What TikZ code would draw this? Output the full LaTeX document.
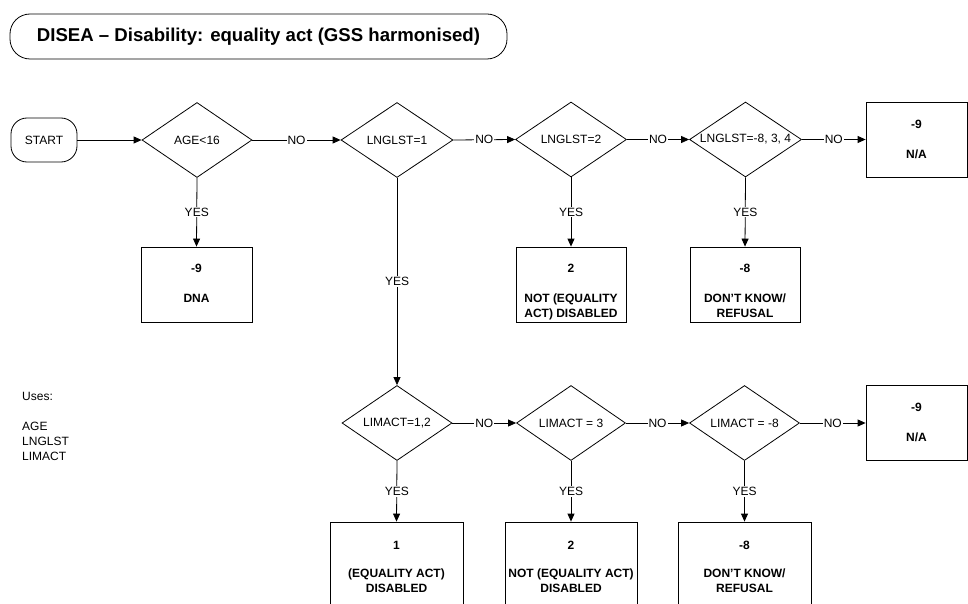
\documentclass[tikz,border=0pt]{standalone}
\usepackage{fontspec}
\setmainfont{Liberation Sans}
\usetikzlibrary{shapes.geometric,arrows.meta,calc}
\begin{document}
\begin{tikzpicture}[x=1pt,y=-1pt,
  every node/.style={font=\fontsize{12}{15}\selectfont},
  conn/.style={draw=black, line width=0.8pt},
  arr/.style={conn, -{Triangle[length=8pt,width=7pt]}},
  dec/.style={diamond, draw, line width=0.8pt, minimum width=110pt, minimum height=75pt, inner sep=0pt},
  outbox/.style={rectangle, draw, line width=0.8pt, inner sep=0pt},
  btxt/.style={font=\fontsize{12}{15}\selectfont\bfseries, align=center, inner sep=0pt, anchor=north},
  lab/.style={fill=white, inner sep=1pt}
]
\useasboundingbox (0,0) rectangle (968,604);
\clip (0,0) rectangle (968,604);

% title
\node[draw, line width=0.8pt, rectangle, rounded corners=20pt, minimum width=497pt, minimum height=45pt, inner sep=0pt,
      font=\fontsize{18.6}{22}\selectfont\bfseries] (title) at (258.5,36.5) {DISEA -- Disability: equality act (GSS harmonised)};

% start
\node[draw, line width=0.8pt, rectangle, rounded corners=16pt, minimum width=66pt, minimum height=44pt, inner sep=0pt] (start) at (44,140) {START};

% top row decisions
\node[dec] (d1) at (197,140) {\makebox[0pt]{AGE<16}};
\node[dec, minimum width=112pt] (d2) at (397,140) {\makebox[0pt]{LNGLST=1}};
\node[dec, minimum width=111pt] (d3) at (571,139.5) {\makebox[0pt]{LNGLST=2}};
\node[dec, minimum width=112pt] (d4) at (745.5,139.5) {\makebox[0pt]{LNGLST=-8, 3, 4}};
\node[outbox, minimum width=101pt, minimum height=75pt] (na1) at (916.5,139.5) {};
\node[btxt] (na1t) at (916.5,119.7) {-9\\[15pt]N/A};

% top row outcomes
\node[outbox, minimum width=111pt, minimum height=75pt] (dna) at (196.5,284.5) {};
\node[btxt] (dnat) at (196.5,263.7) {-9\\[15pt]DNA};
\node[outbox, minimum width=110pt, minimum height=75pt] (b2) at (571,284.5) {};
\node[btxt] (b2t) at (571,263.7) {2\\[15pt]NOT (EQUALITY\\ACT) DISABLED};
\node[outbox, minimum width=110pt, minimum height=75pt] (b3) at (745,284.5) {};
\node[btxt] (b3t) at (745,263.7) {-8\\[15pt]DON'T KNOW/\\REFUSAL};

% bottom row decisions
\node[dec] (l1) at (397,423) {\makebox[0pt]{LIMACT=1,2}};
\node[dec, minimum width=109pt] (l2) at (571,423) {\makebox[0pt]{LIMACT = 3}};
\node[dec] (l3) at (744.5,423) {\makebox[0pt]{LIMACT = -8}};
\node[outbox, minimum width=101pt, minimum height=75pt] (na2) at (916.5,423) {};
\node[btxt] (na2t) at (916.5,403.2) {-9\\[15pt]N/A};

% bottom row outcomes
\node[outbox, minimum width=133pt, minimum height=100pt] (c1) at (396.5,572) {};
\node[btxt] (c1t) at (396.5,540.7) {1\\[13pt](EQUALITY ACT)\\DISABLED};
\node[outbox, minimum width=132pt, minimum height=100pt] (c2) at (571,572) {};
\node[btxt] (c2t) at (571,540.7) {2\\[13pt]NOT (EQUALITY ACT)\\DISABLED};
\node[outbox, minimum width=133pt, minimum height=100pt] (c3) at (744.5,572) {};
\node[btxt] (c3t) at (744.5,540.7) {-8\\[13pt]DON'T KNOW/\\REFUSAL};

% uses
\node[anchor=north west, align=left, inner sep=0pt] (uses) at (22,392.5) {Uses:\\[15pt]AGE\\LNGLST\\LIMACT};

% connectors
\draw[arr] (start.east) -- (d1.west);
\draw[arr] (d1.east) -- node[lab]{NO} (d2.west);
\draw[arr] (d2.east) -- node[lab]{NO} (d3.west);
\draw[arr] (d3.east) -- node[lab]{NO} (d4.west);
\draw[arr] (d4.east) -- node[lab]{NO} (na1.west);
\draw[arr] (d1.south) -- node[lab]{YES} (dna.north);
\draw[arr] (d2.south) -- node[lab]{YES} (l1.north);
\draw[arr] (d3.south) -- node[lab]{YES} (b2.north);
\draw[arr] (d4.south) -- node[lab]{YES} (b3.north);
\draw[arr] (l1.east) -- node[lab]{NO} (l2.west);
\draw[arr] (l2.east) -- node[lab]{NO} (l3.west);
\draw[arr] (l3.east) -- node[lab]{NO} (na2.west);
\draw[arr] (l1.south) -- node[lab]{YES} (c1.north);
\draw[arr] (l2.south) -- node[lab]{YES} (c2.north);
\draw[arr] (l3.south) -- node[lab]{YES} (c3.north);
\end{tikzpicture}
\end{document}
